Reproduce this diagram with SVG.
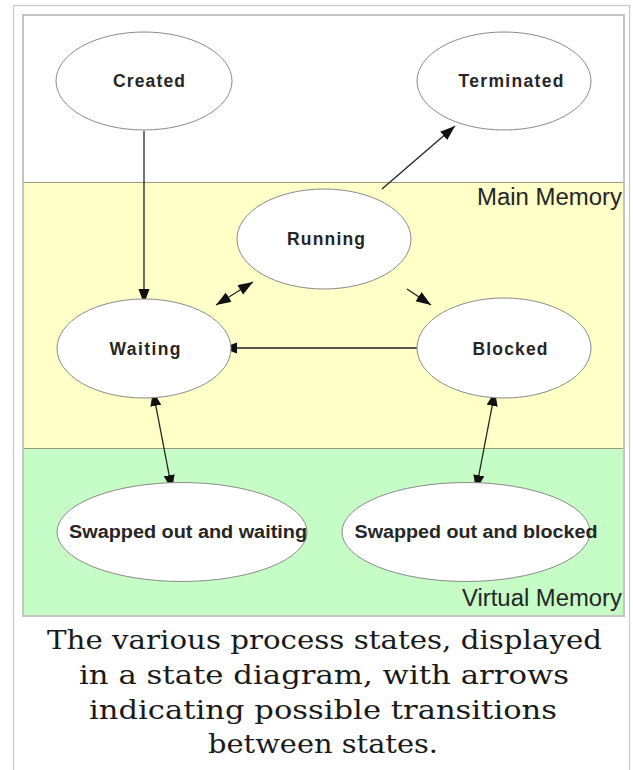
<svg xmlns="http://www.w3.org/2000/svg" width="633" height="770" viewBox="0 0 633 770">
  <style>
    .node ellipse { fill: #ffffff; stroke: #8a8a8a; stroke-width: 1; }
    .node text { font-family: "Liberation Sans", Arial, sans-serif; font-size: 17.5px; font-weight: bold; fill: #262626; text-anchor: middle; }
    .region { font-family: "Liberation Sans", Arial, sans-serif; font-size: 23px; fill: #262626; text-anchor: end; }
    .edge { stroke: #222222; stroke-width: 1.3; fill: none; }
    .caption { font-family: "DejaVu Serif", "Liberation Serif", serif; font-size: 26px; fill: #1a1a1a; text-anchor: middle; }
  </style>
  <defs>
    <marker id="arrow" markerUnits="userSpaceOnUse" markerWidth="17" markerHeight="13" refX="15" refY="5.5" orient="auto-start-reverse">
      <path d="M0,0 L15,5.5 L0,11 z" fill="#111111"/>
    </marker>
  </defs>

  <!-- page background and thumbnail frame -->
  <rect x="0" y="0" width="633" height="770" fill="#ffffff"/>
  <rect x="13.5" y="5.5" width="616" height="800" fill="#ffffff" stroke="#c8c8c8" stroke-width="1.2"/>

  <!-- image area with memory regions -->
  <g id="regions">
    <rect x="24" y="16" width="599" height="599" fill="#ffffff"/>
    <rect x="24" y="182" width="599" height="266" fill="#ffffc8"/>
    <rect x="24" y="448" width="599" height="167" fill="#c6fcc6"/>
    <line x1="24" y1="182.5" x2="623" y2="182.5" stroke="#9a9a86" stroke-width="1.2"/>
    <line x1="24" y1="448.5" x2="623" y2="448.5" stroke="#9a9a86" stroke-width="1.2"/>
    <text class="region" x="622" y="205" textLength="145" lengthAdjust="spacingAndGlyphs">Main Memory</text>
    <text class="region" x="622" y="606" textLength="160" lengthAdjust="spacingAndGlyphs">Virtual Memory</text>
  </g>
  <rect x="23" y="15" width="601" height="601" fill="none" stroke="#c4c4c4" stroke-width="2"/>

  <!-- connectors -->
  <g id="connectors">
    <line class="edge" x1="144" y1="131" x2="144" y2="304" stroke="#5a5a5a" marker-end="url(#arrow)"/>
    <line class="edge" x1="382" y1="189" x2="455" y2="126" marker-end="url(#arrow)"/>
    <line class="edge" x1="216" y1="305" x2="253" y2="282" marker-start="url(#arrow)" marker-end="url(#arrow)"/>
    <line class="edge" x1="407" y1="289" x2="431" y2="305" marker-end="url(#arrow)"/>
    <line class="edge" x1="418" y1="348" x2="222" y2="348" marker-end="url(#arrow)"/>
    <line class="edge" x1="153" y1="391" x2="172" y2="490" marker-start="url(#arrow)" marker-end="url(#arrow)"/>
    <line class="edge" x1="495" y1="391" x2="476" y2="490" marker-start="url(#arrow)" marker-end="url(#arrow)"/>
  </g>

  <!-- states -->
  <g id="created" class="node">
    <ellipse cx="144" cy="81" rx="88" ry="49"/>
    <text x="149" y="87" textLength="72" lengthAdjust="spacing">Created</text>
  </g>
  <g id="terminated" class="node">
    <ellipse cx="504" cy="81" rx="87" ry="49"/>
    <text x="511" y="87" textLength="105" lengthAdjust="spacing">Terminated</text>
  </g>
  <g id="running" class="node">
    <ellipse cx="324" cy="239" rx="87" ry="50"/>
    <text x="326" y="245" textLength="78" lengthAdjust="spacing">Running</text>
  </g>
  <g id="waiting" class="node">
    <ellipse cx="144" cy="348.5" rx="87" ry="49.5"/>
    <text x="145" y="355" textLength="71" lengthAdjust="spacing">Waiting</text>
  </g>
  <g id="blocked" class="node">
    <ellipse cx="504" cy="348" rx="87" ry="50"/>
    <text x="510" y="355" textLength="75" lengthAdjust="spacing">Blocked</text>
  </g>
  <g id="swapped-waiting" class="node">
    <ellipse cx="182" cy="532" rx="125" ry="49.5"/>
    <text x="188" y="538" textLength="238" lengthAdjust="spacingAndGlyphs">Swapped out and waiting</text>
  </g>
  <g id="swapped-blocked" class="node">
    <ellipse cx="466" cy="532" rx="124" ry="49.5"/>
    <text x="476" y="538" textLength="243" lengthAdjust="spacingAndGlyphs">Swapped out and blocked</text>
  </g>

  <!-- caption -->
  <g id="caption">
    <text class="caption" x="324.5" y="649" textLength="555" lengthAdjust="spacingAndGlyphs">The various process states, displayed</text>
    <text class="caption" x="324" y="684" textLength="490" lengthAdjust="spacingAndGlyphs">in a state diagram, with arrows</text>
    <text class="caption" x="323" y="719" textLength="468" lengthAdjust="spacingAndGlyphs">indicating possible transitions</text>
    <text class="caption" x="323" y="753" textLength="230" lengthAdjust="spacingAndGlyphs">between states.</text>
  </g>
</svg>
